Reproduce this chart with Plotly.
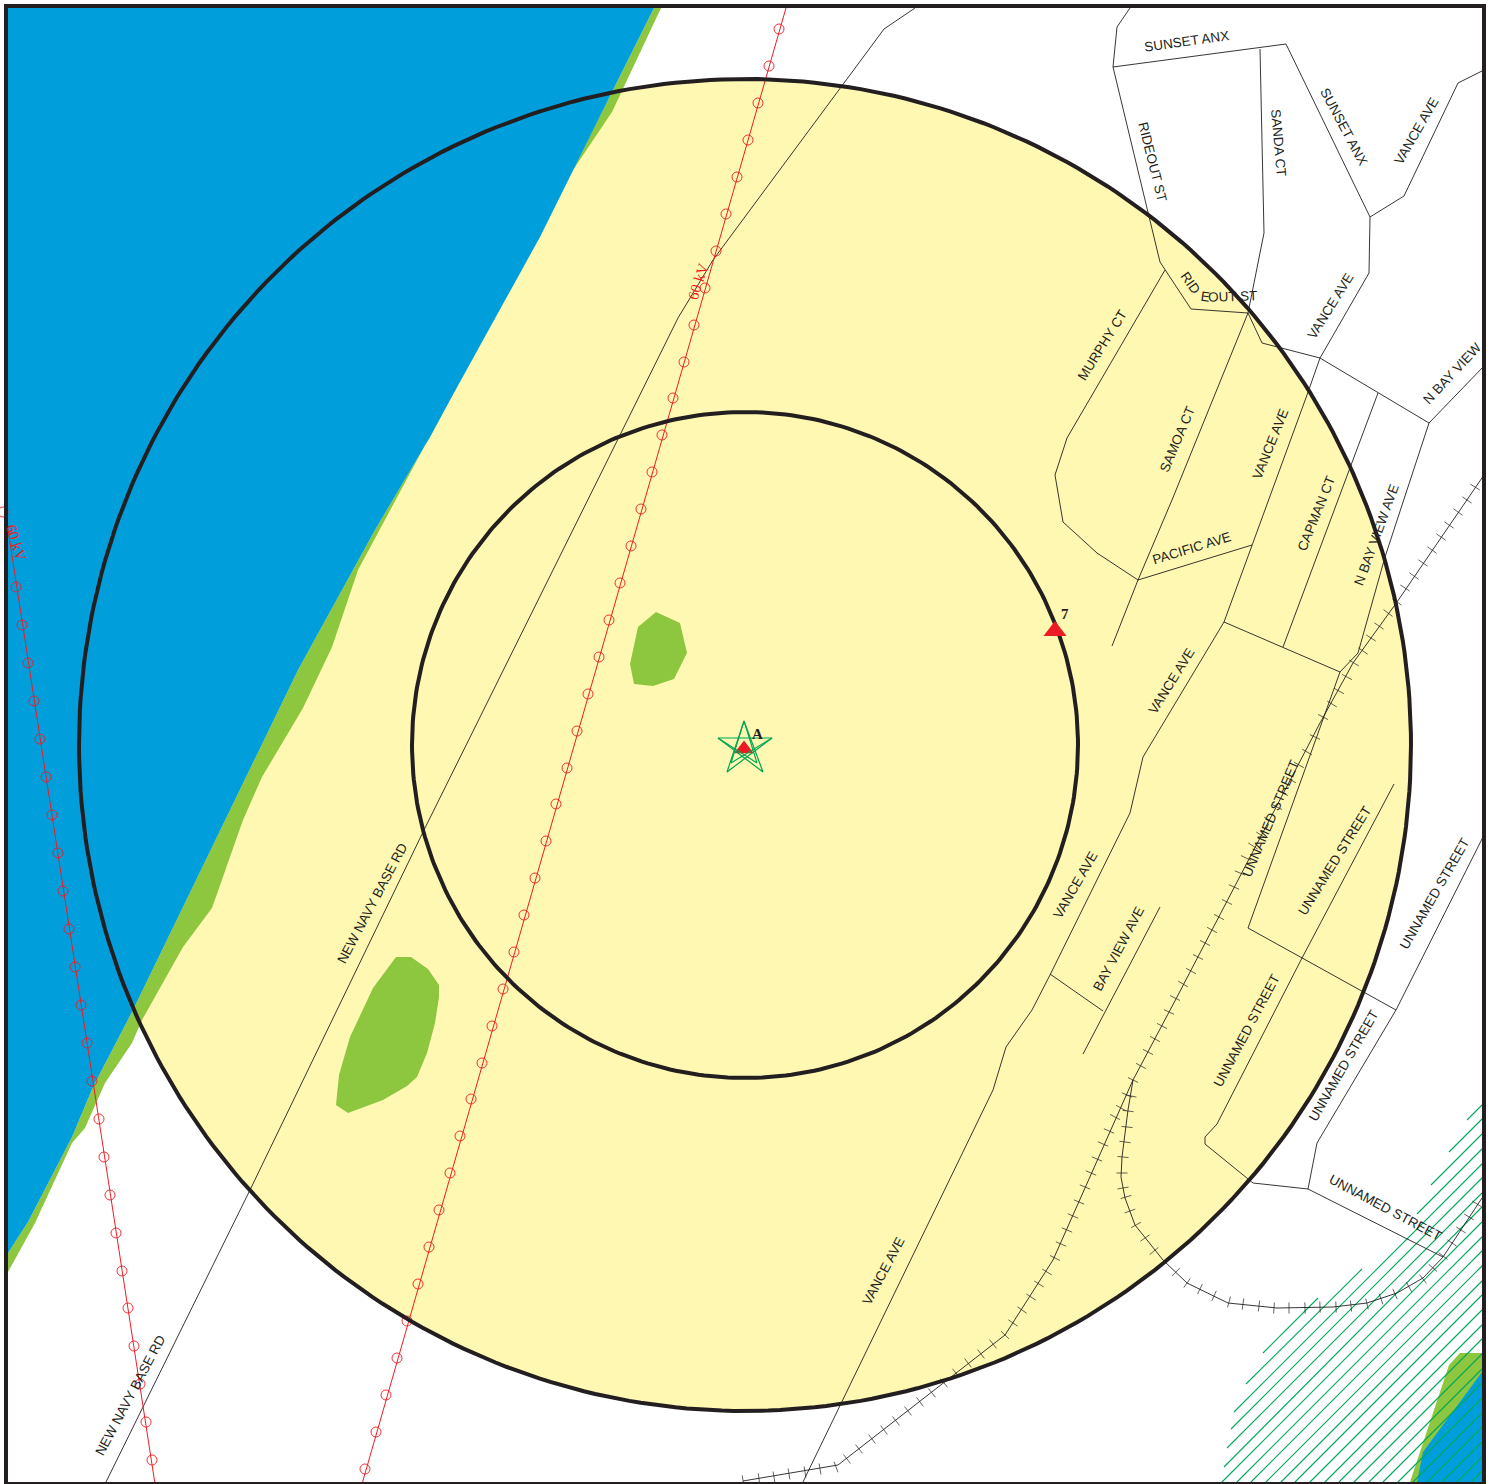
import numpy as np
import plotly.graph_objects as go

BLUE = "#009fdb"; GREEN = "#8dc63f"; YELLOW = "#fff8b2"; RED = "#ed1c24"; INK = "#231f20"; HATCH = "#00a859"
TEXT_FONT = "Liberation Sans"

CENTER = (745, 745)
RING_RADII = [333, 666]

WATER_MAIN = [(8,8),(654,8),(613,90),(573,170),(540,237),(450,400),(430,437),(375,530),(298,670),
              (133,1010),(93,1087),(72,1137),(28,1222),(8,1253)]
SHORE_MAIN = [(8,1253),(28,1222),(72,1137),(93,1087),(133,1010),(298,670),(375,530),(430,437),(573,170),(613,90),(654,8),
              (661,8),(623,88),(612,112),(573,170),(430,437),(380,530),(358,570),(332,647),(303,708),(262,777),(243,820),(212,908),
              (183,947),(142,1020),(132,1043),(105,1083),(85,1128),(72,1143),(35,1223),(8,1272)]
SHORE_CORNER = [(1460,1353),(1482,1353),(1482,1482),(1410,1482),(1449,1365)]
WATER_CORNER = [(1482,1372),(1423,1452),(1417,1482),(1482,1482)]
MARSH_A = [(656,612),(680,623),(687,653),(674,679),(653,686),(634,684),(630,664),(638,627)]
MARSH_B = [(396,957),(411,957),(428,969),(439,985),(439,997),(435,1023),(427,1053),(417,1077),(407,1086),(383,1100),
           (348,1113),(336,1105),(339,1075),(350,1037),(373,988)]

HATCH_START_X = [1467,1449,1263,1431,1246,1417,1234,1231,1227,1224,1222,1237,1251,1266,1281,1295,1310,1325,1339,1354,1369,1383,1398,1413,1427,1442,1457,1471]
HATCH_START_Y = [1120,1152,1353,1185,1384,1214,1412,1429,1448,1467,1482,1482,1482,1482,1482,1482,1482,1482,1482,1482,1482,1482,1482,1482,1482,1482,1482,1482]
HATCH_END_X = [1482,1482,1318,1482,1362,1482,1482,1482,1482,1482,1482,1482,1482,1482,1482,1482,1482,1482,1482,1482,1482,1482,1482,1482,1482,1482,1482,1482]
HATCH_END_Y = [1105,1119,1298,1134,1269,1149,1164,1178,1193,1207,1222,1237,1251,1266,1281,1295,1310,1325,1339,1354,1369,1383,1398,1413,1427,1442,1457,1471]

NAVY_RD = [(915,8),(884,29),(713,260),(678,318),(620,435),(424,830),(250,1190),(105,1484)]
RIDEOUT_ST = [(1130,8),(1117,27),(1113,67),(1148,213),(1160,262),(1191,309),(1248,313)]
SUNSET_ANX = [(1113,67),(1286,44),(1370,217)]
SANDA_SAMOA = [(1260,49),(1264,233),(1248,313),(1172,500),(1138,580),(1112,646)]
VANCE_UPPER = [(1484,70),(1458,83),(1404,196),(1370,217),(1369,273),(1320,358),(1307,395),(1252,545),(1224,622),(1143,757),
               (1130,813),(1050,975),(1032,1010),(1006,1047),(993,1090),(802,1484)]
N_BAY_CROSS = [(1248,313),(1262,343),(1320,358),(1429,423),(1484,366)]
CAPMAN_CT = [(1378,393),(1283,647)]
N_BAY_VIEW = [(1429,423),(1385,557),(1358,653),(1340,672),(1248,928),(1396,1010),(1484,835)]
CROSS_ST = [(1224,622),(1340,672)]
PACIFIC_AVE = [(1138,580),(1252,545)]
MURPHY_CT = [(1165,270),(1067,438),(1055,475),(1063,522),(1097,553),(1138,580)]
UNNAMED_LOOP = [(1394,784),(1302,958),(1217,1124),(1205,1137),(1205,1144),(1253,1183),(1308,1189),(1443,1257)]
UNNAMED_EAST = [(1396,1010),(1317,1143),(1308,1189)]
BAY_VIEW_AVE = [(1160,907),(1083,1054)]
BAY_VIEW_SPUR = [(1050,974),(1103,1011)]
ROADS = [NAVY_RD, RIDEOUT_ST, SUNSET_ANX, SANDA_SAMOA, VANCE_UPPER, N_BAY_CROSS, CAPMAN_CT, N_BAY_VIEW,
         CROSS_ST, PACIFIC_AVE, MURPHY_CT, UNNAMED_LOOP, UNNAMED_EAST, BAY_VIEW_AVE, BAY_VIEW_SPUR]

RAIL_MAIN = [(1484,475),(1397,602),(1353,663),(1320,723),(1177,997),(1133,1080),(1053,1260),(1005,1335),(838,1465),(743,1481)]
RAIL_MAIN_TICKS = [(1475,487),(1467,500),(1458,512),(1449,525),(1441,537),(1432,550),(1423,563),(1414,576),(1405,588),(1397,602),
    (1388,613),(1379,626),(1371,638),(1363,651),(1354,663),(1347,677),(1339,691),(1332,704),(1323,717),(1315,737),(1307,752),
    (1299,765),(1291,780),(1283,793),(1277,807),(1269,820),(1261,835),(1253,846),(1246,858),(1240,873),(1234,887),(1227,902),
    (1219,917),(1212,930),(1205,943),(1198,957),(1191,971),(1183,984),(1175,998),(1169,1012),(1162,1026),(1155,1039),(1148,1052),
    (1141,1066),(1133,1080),(1127,1095),(1121,1108),(1115,1117),(1109,1131),(1103,1144),(1097,1159),(1091,1173),(1085,1187),
    (1079,1202),(1073,1216),(1067,1230),(1061,1244),(1055,1258),(1047,1272),(1039,1284),(1031,1297),(1022,1310),(1013,1323),
    (1005,1335),(993,1344),(981,1354),(968,1363),(956,1373),(944,1383),(932,1393),(920,1402),(908,1411),(896,1421),(884,1430),
    (872,1439),(859,1449),(847,1459),(836,1467),(820,1469),(805,1472),(789,1474),(774,1477),(759,1479),(743,1481)]
RAIL_LOOP = [(1133,1080),(1128,1110),(1122,1157),(1121,1177),(1125,1198),(1135,1225),(1163,1260),(1187,1283),(1228,1303),
             (1277,1308),(1333,1307),(1367,1303),(1397,1293),(1423,1278),(1443,1257),(1482,1198)]
RAIL_LOOP_TICKS = [(1131,1096),(1128,1111),(1127,1127),(1125,1142),(1123,1157),(1122,1173),(1123,1188),(1126,1197),(1130,1211),
    (1136,1225),(1145,1238),(1154,1251),(1165,1262),(1176,1272),(1187,1283),(1200,1289),(1214,1296),(1229,1302),(1243,1304),
    (1259,1306),(1274,1308),(1289,1308),(1305,1308),(1320,1307),(1336,1307),(1351,1306),(1367,1304),(1381,1299),(1395,1294),
    (1409,1287),(1423,1279),(1433,1268),(1443,1256),(1452,1243),(1461,1230),(1469,1217),(1477,1204)]

POWER_LINE_A = [(786,8),(362,1484)]
POWER_A_TOWERS = [(779,29),(769,66),(758,103),(748,140),(737,177),(726,214),(716,251),(705,288),(694,325),(684,362),(673,398),
    (662,435),(652,472),(641,509),(631,546),(620,583),(609,620),(599,657),(588,694),(577,731),(567,768),(556,804),(546,841),
    (535,878),(524,915),(514,952),(503,989),(492,1026),(482,1063),(471,1099),(460,1136),(450,1173),(439,1210),(429,1247),
    (418,1284),(407,1321),(397,1358),(386,1395),(376,1432),(365,1469)]
POWER_LINE_B = [(5,510),(155,1484)]
POWER_B_TOWERS = [(3,512),(16,587),(22,625),(28,663),(34,701),(40,739),(46,777),(52,815),(58,853),(63,891),(69,929),(75,967),(81,1005),
    (87,1043),(92,1081),(99,1119),(104,1157),(110,1195),(116,1233),(122,1271),(128,1308),(134,1346),(140,1384),(146,1422),(152,1460)]

STAR_X = [744,763,718,772,727,744]
STAR_Y = [721,772,738,738,772,721]
STAR_INNER_X = [718,757,744,731,772]
STAR_INNER_Y = [738,763,721,763,738]
SITE_X = [744, 1055]
SITE_Y = [749, 631]
SITE_SIZE = [17, 20]

ROAD_LABELS = [
    ("SUNSET ANX",1186,41,-8),("SANDA CT",1279,143,85),("RIDEOUT ST",1153,162,76),("SUNSET ANX",1344,126,62),
    ("VANCE AVE",1416,131,-60),("RID",1191,283,55),("E",1205,296,8),("OUT ST",1232,296,-2),("MURPHY CT",1102,345,-58),
    ("VANCE AVE",1330,306,-58),("N BAY VIEW",1452,373,-47),("SAMOA CT",1177,439,-67),("VANCE AVE",1270,444,-68),
    ("N BAY VIEW AVE",1376,535,-70),("CAPMAN CT",1316,513,-68),("PACIFIC AVE",1191,548,-17),("VANCE AVE",1171,681,-58),
    ("UNNAMED STREET",1270,819,-67),("UNNAMED STREET",1334,861,-58),("UNNAMED STREET",1434,894,-60),("VANCE AVE",1075,885,-60),
    ("BAY VIEW AVE",1118,949,-62),("UNNAMED STREET",1246,1031,-62),("UNNAMED STREET",1343,1066,-60),
    ("UNNAMED STREET",1385,1207,28),("VANCE AVE",883,1271,-62),("NEW NAVY BASE RD",372,903,-62),("NEW NAVY BASE RD",130,1395,-62),
]
POWER_LABELS = [("60 kV",16,542,72),("60 kV",698,282,-72)]
SITE_LABELS = [("A",757,734),("7",1065,614)]


def xs(pts):
    return [p[0] for p in pts]


def ys(pts):
    return [p[1] for p in pts]


fig = go.Figure()


def poly(pts, colour):
    fig.add_trace(go.Scatter(x=xs(pts), y=ys(pts), mode="lines", fill="toself", fillcolor=colour,
                             line=dict(width=0, color=colour), hoverinfo="skip", showlegend=False))


poly(SHORE_MAIN, GREEN)
poly(WATER_MAIN, BLUE)
poly(MARSH_A, GREEN)
poly(MARSH_B, GREEN)
poly(SHORE_CORNER, GREEN)
poly(WATER_CORNER, BLUE)

for x0, y0, x1, y1 in zip(HATCH_START_X, HATCH_START_Y, HATCH_END_X, HATCH_END_Y):
    fig.add_trace(go.Scatter(x=[x0, x1], y=[y0, y1], mode="lines", line=dict(color=HATCH, width=1.1),
                             hoverinfo="skip", showlegend=False))

for road in ROADS:
    fig.add_trace(go.Scatter(x=xs(road), y=ys(road), mode="lines", line=dict(color=INK, width=0.9),
                             hoverinfo="skip", showlegend=False))

for path, ticks in ((RAIL_MAIN, RAIL_MAIN_TICKS), (RAIL_LOOP, RAIL_LOOP_TICKS)):
    fig.add_trace(go.Scatter(x=xs(path), y=ys(path), mode="lines", line=dict(color=INK, width=0.9),
                             hoverinfo="skip", showlegend=False))
    tx, ty = np.array(xs(ticks), float), np.array(ys(ticks), float)
    angle = np.degrees(np.arctan2(np.gradient(ty), np.gradient(tx)))
    fig.add_trace(go.Scatter(x=tx, y=ty, mode="markers",
                             marker=dict(symbol="line-ns", size=8, angle=angle, opacity=1, line=dict(color=INK, width=0.7)),
                             hoverinfo="skip", showlegend=False))

for line, towers in ((POWER_LINE_A, POWER_A_TOWERS), (POWER_LINE_B, POWER_B_TOWERS)):
    fig.add_trace(go.Scatter(x=xs(line), y=ys(line), mode="lines", line=dict(color=RED, width=1),
                             hoverinfo="skip", showlegend=False))
    fig.add_trace(go.Scatter(x=xs(towers), y=ys(towers), mode="markers",
                             marker=dict(symbol="circle-open", size=10, color=RED, opacity=1, line=dict(color=RED, width=0.9)),
                             hoverinfo="skip", showlegend=False))

theta = np.linspace(0, 2 * np.pi, 361)
for r in RING_RADII:
    fig.add_trace(go.Scatter(x=CENTER[0] + r * np.cos(theta), y=CENTER[1] + r * np.sin(theta), mode="lines",
                             line=dict(color=INK, width=4), hoverinfo="skip", showlegend=False))

fig.add_trace(go.Scatter(x=SITE_X, y=SITE_Y, mode="markers",
                         marker=dict(symbol="triangle-up", size=SITE_SIZE, color=RED, opacity=1, line=dict(width=0)),
                         hoverinfo="skip", showlegend=False))
fig.add_trace(go.Scatter(x=STAR_X, y=STAR_Y, mode="lines", line=dict(color="#00a651", width=1.2),
                         hoverinfo="skip", showlegend=False))
fig.add_trace(go.Scatter(x=STAR_INNER_X, y=STAR_INNER_Y, mode="lines", line=dict(color="#00a651", width=1.1),
                         hoverinfo="skip", showlegend=False))

annotations = []
for text, x, y, ang in ROAD_LABELS:
    annotations.append(dict(text=text, x=x, y=y, textangle=ang, showarrow=False, xanchor="center", yanchor="middle",
                            font=dict(family=TEXT_FONT, size=13.5, color=INK)))
for text, x, y, ang in POWER_LABELS:
    annotations.append(dict(text=text, x=x, y=y, textangle=ang, showarrow=False, xanchor="center", yanchor="middle",
                            font=dict(family="Liberation Serif", size=15, color=RED)))
for text, x, y in SITE_LABELS:
    annotations.append(dict(text="<b>%s</b>" % text, x=x, y=y, showarrow=False, xanchor="center", yanchor="middle",
                            font=dict(family="Liberation Serif", size=15, color=INK)))

shapes = [
    dict(type="circle", xref="x", yref="y", layer="below",
         x0=CENTER[0] - RING_RADII[1], x1=CENTER[0] + RING_RADII[1],
         y0=CENTER[1] - RING_RADII[1], y1=CENTER[1] + RING_RADII[1],
         fillcolor=YELLOW, line=dict(width=0)),
    dict(type="rect", xref="x", yref="y", layer="above", x0=6, x1=1484, y0=6, y1=1484,
         fillcolor="rgba(0,0,0,0)", line=dict(color=INK, width=4)),
]

fig.update_layout(
    width=1492, height=1484, margin=dict(l=0, r=0, t=0, b=0, pad=0),
    paper_bgcolor="white", plot_bgcolor="white", showlegend=False,
    xaxis=dict(range=[0, 1492], visible=False, fixedrange=True),
    yaxis=dict(range=[1484, 0], visible=False, fixedrange=True),
    shapes=shapes, annotations=annotations,
)

fig.write_html("out.html", config=dict(displayModeBar=False),
               post_script="document.body.style.margin='0';document.body.style.overflow='hidden';")
